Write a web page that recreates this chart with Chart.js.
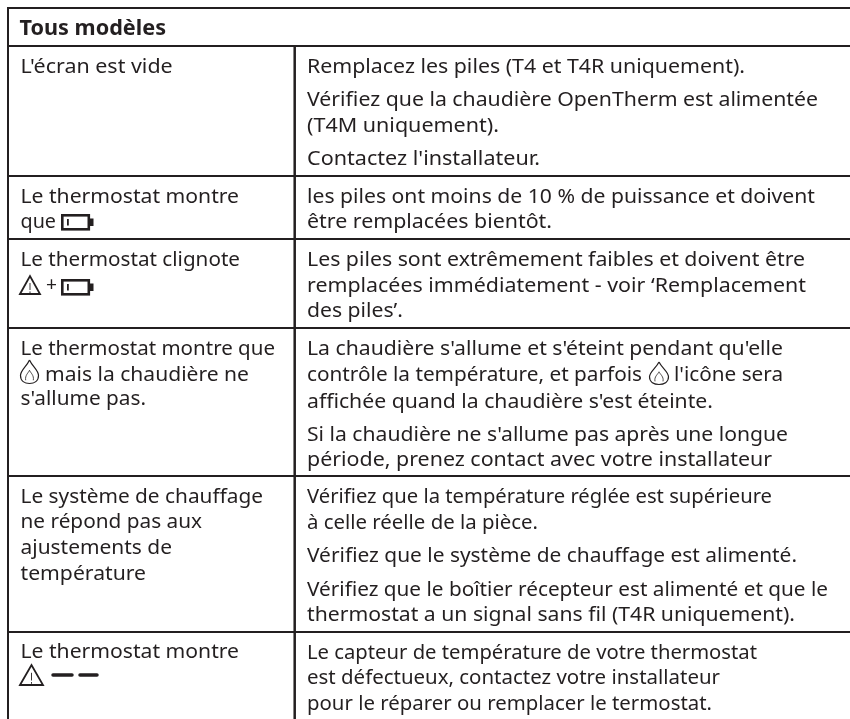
<!DOCTYPE html>
<html lang="fr">
<head>
<meta charset="utf-8">
<script src="https://cdn.jsdelivr.net/npm/chart.js@4"></script>
<style>html,body{margin:0;padding:0;background:#fff}canvas{display:block}</style>
</head>
<body>
<canvas id="c" width="850" height="719"></canvas>
<script>
const headerText = ["Tous modèles"];
const headerX = [19.5];
const headerY = [35];
const headerEnd = [166];

const cellLines = [
 "L'écran est vide","Le thermostat montre","que","Le thermostat clignote","+",
 "Le thermostat montre que","mais la chaudière ne","s'allume pas.",
 "Le système de chauffage","ne répond pas aux","ajustements de","température",
 "Le thermostat montre",
 "Remplacez les piles (T4 et T4R uniquement).",
 "Vérifiez que la chaudière OpenTherm est alimentée","(T4M uniquement).","Contactez l'installateur.",
 "les piles ont moins de 10 % de puissance et doivent","être remplacées bientôt.",
 "Les piles sont extrêmement faibles et doivent être","remplacées immédiatement - voir ‘Remplacement","des piles’.",
 "La chaudière s'allume et s'éteint pendant qu'elle","contrôle la température, et parfois","l'icône sera","affichée quand la chaudière s'est éteinte.",
 "Si la chaudière ne s'allume pas après une longue","période, prenez contact avec votre installateur",
 "Vérifiez que la température réglée est supérieure","à celle réelle de la pièce.",
 "Vérifiez que le système de chauffage est alimenté.",
 "Vérifiez que le boîtier récepteur est alimenté et que le","thermostat a un signal sans fil (T4R uniquement).",
 "Le capteur de température de votre thermostat","est défectueux, contactez votre installateur","pour le réparer ou remplacer le termostat."
];
const cellX = [20.5,20.5,20.5,20.5,46,20.5,45,20.5,20.5,20.5,20.5,20.5,20.5,
 307,307,307,307,307,307,307,307,307,307,307,674,307,307,307,307,307,307,307,307,307,307,307];
const cellY = [73,203,228,266,291,355,381,405,503,528,554,580,658,
 73,106,132,165,203,228,266,292,317,355,381,381,408,441,466,503,529,562,595.5,620.5,658.5,683.5,709.5];
const cellEnd = [172.7,239,56,240,57,275,249,146,263,202,172,146,239,
 745,818,499,540,815,552,805,806,403,783,642,783,713,788,772,772,538,797,828,795,757,720,712];

const rowEdges = [8,46,176,239,328,476,632];
const columnEdges = [8,294.7];
const axisMax = [850,719];

const batteryIcons = [[61,214],[61,279]];
const warningIcons = [[19,295,22,20],[19,686,25,22]];
const flameIcons = [[20,359,19,25],[649,361,20,24]];
const dashIcons = [[53,72,675],[80,97,675]];

const INK = "#231f20";
const FONT = '"Noto Sans"';

const lineDatasets = [];
rowEdges.forEach(y => lineDatasets.push({data:[{x:7,y},{x:850,y}],showLine:true,borderColor:INK,borderWidth:2,pointRadius:0}));
columnEdges.forEach((x,i) => lineDatasets.push({data:[{x,y:i?46:7},{x,y:719}],showLine:true,borderColor:INK,borderWidth:i?2.5:2,pointRadius:0}));
dashIcons.forEach(d => lineDatasets.push({data:[{x:d[0],y:d[2]},{x:d[1],y:d[2]}],showLine:true,borderColor:INK,borderWidth:3.5,borderCapStyle:"round",pointRadius:0}));

function fitText(ctx,t,x,y,end){
  const w = ctx.measureText(t).width;
  ctx.save();
  ctx.translate(x,y);
  ctx.scale((end-x)/w,1);
  ctx.fillText(t,0,0);
  ctx.restore();
}

const tablePlugin = {
 id:"tableText",
 afterDatasetsDraw(chart){
  const {ctx,scales:{x:sx,y:sy}} = chart;
  const X = v => sx.getPixelForValue(v), Y = v => sy.getPixelForValue(v);
  ctx.save();
  ctx.fillStyle = INK; ctx.textBaseline = "alphabetic"; ctx.textAlign = "left";
  ctx.font = 'bold 21.7px '+FONT;
  headerText.forEach((t,i)=>fitText(ctx,t,X(headerX[i]),Y(headerY[i]),X(headerEnd[i])));
  ctx.font = '19px '+FONT;
  cellLines.forEach((t,i)=>fitText(ctx,t,X(cellX[i]),Y(cellY[i]),X(cellEnd[i])));
  ctx.strokeStyle = INK;
  batteryIcons.forEach(([a,b])=>{
    ctx.lineWidth=2.6; ctx.strokeRect(X(a)+1.3,Y(b)+1.3,26.5,14);
    ctx.fillRect(X(a)+28,Y(b)+4.5,4.5,7.5);
    ctx.fillRect(X(a)+6,Y(b)+5,1.8,6.5);
  });
  warningIcons.forEach(([a,b,w,h])=>{
    ctx.lineWidth=1.8; ctx.beginPath();
    ctx.moveTo(X(a)+1,Y(b)-1); ctx.lineTo(X(a)+w/2,Y(b)-h+1); ctx.lineTo(X(a)+w-1,Y(b)-1); ctx.closePath(); ctx.stroke();
    ctx.lineWidth=0.9; ctx.beginPath();
    ctx.moveTo(X(a)+w/2,Y(b)-h*0.6); ctx.lineTo(X(a)+w/2,Y(b)-h*0.25);
    ctx.moveTo(X(a)+w/2,Y(b)-h*0.18); ctx.lineTo(X(a)+w/2,Y(b)-h*0.1); ctx.stroke();
  });
  flameIcons.forEach(([a,b,w,h])=>{
    const x0=X(a),y0=Y(b);
    ctx.lineWidth=1.2; ctx.beginPath();
    ctx.moveTo(x0+w/2,y0+1);
    ctx.bezierCurveTo(x0+w*0.35,y0+h*0.3,x0+0.5,y0+h*0.45,x0+0.5,y0+h*0.66);
    ctx.bezierCurveTo(x0+0.5,y0+h*0.88,x0+w*0.25,y0+h-0.5,x0+w/2,y0+h-0.5);
    ctx.bezierCurveTo(x0+w*0.75,y0+h-0.5,x0+w-0.5,y0+h*0.88,x0+w-0.5,y0+h*0.66);
    ctx.bezierCurveTo(x0+w-0.5,y0+h*0.45,x0+w*0.65,y0+h*0.3,x0+w/2,y0+1);
    ctx.stroke();
    ctx.lineWidth=0.8; ctx.beginPath();
    ctx.moveTo(x0+w*0.3,y0+h*0.85);
    ctx.bezierCurveTo(x0+w*0.25,y0+h*0.65,x0+w*0.45,y0+h*0.55,x0+w/2,y0+h*0.45);
    ctx.bezierCurveTo(x0+w*0.55,y0+h*0.55,x0+w*0.75,y0+h*0.65,x0+w*0.7,y0+h*0.85);
    ctx.stroke();
  });
  ctx.restore();
 }
};

new Chart(document.getElementById("c"),{
 type:"scatter",
 data:{datasets:lineDatasets},
 options:{
  responsive:false,animation:false,
  layout:{padding:0},
  plugins:{legend:{display:false},tooltip:{enabled:false},title:{display:false}},
  scales:{
   x:{type:"linear",display:false,min:0,max:axisMax[0]},
   y:{type:"linear",display:false,min:0,max:axisMax[1],reverse:true}
  }
 },
 plugins:[tablePlugin]
});
</script>
</body>
</html>
